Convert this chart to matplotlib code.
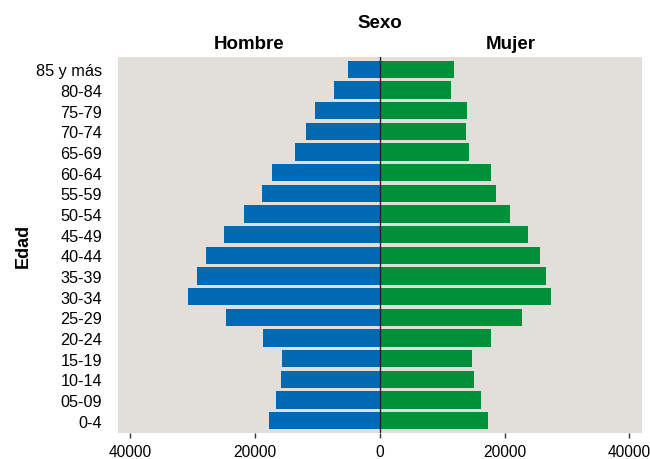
import matplotlib.pyplot as plt
import numpy as np

plt.rcParams['font.family'] = ['Liberation Sans', 'DejaVu Sans']

# Age groups, bottom to top
edades = ['0-4', '05-09', '10-14', '15-19', '20-24', '25-29', '30-34', '35-39',
          '40-44', '45-49', '50-54', '55-59', '60-64', '65-69', '70-74', '75-79',
          '80-84', '85 y más']
hombres = [17750, 16630, 15820, 15660, 18720, 24680, 30790, 29340, 27890,
           25000, 21780, 18880, 17270, 13570, 11800, 10350, 7290, 5040]
mujeres = [17270, 16140, 15020, 14700, 17750, 22740, 27410, 26600, 25640,
           23710, 20810, 18560, 17750, 14210, 13730, 13890, 11320, 11800]
xticks = [-40000, -20000, 0, 20000, 40000]
xticklabels = ['40000', '20000', '0', '20000', '40000']

fig = plt.figure(figsize=(6.5, 4.6), dpi=100)
ax = fig.add_axes([0.1815, 0.0565, 0.806, 0.8175])
ax.set_facecolor('#E2DED9')

y = np.arange(len(edades))
ax.barh(y, -np.array(hombres), height=0.83, color='#0069B3')
ax.barh(y, mujeres, height=0.83, color='#00903A')
ax.axvline(0, color='#222222', lw=1.0)

ax.set_xlim(-42000, 42000)
ax.set_ylim(-0.6, len(edades) - 0.4)
ax.set_xticks(xticks)
ax.set_xticklabels(xticklabels)
ax.set_yticks(y)
ax.set_yticklabels(edades)
ax.tick_params(axis='x', labelsize=11.2, colors='#333333', labelcolor='black',
               length=3.6, width=1.0, pad=4)
ax.tick_params(axis='y', labelsize=11.7, labelcolor='black', length=0, pad=11.5)
for s in ax.spines.values():
    s.set_visible(False)

ax.set_ylabel('Edad', fontsize=13, fontweight='bold', labelpad=3)
fig.text(0.584, 0.948, 'Sexo', ha='center', va='center', fontsize=13.5, fontweight='bold')
fig.text(0.383, 0.904, 'Hombre', ha='center', va='center', fontsize=13.5, fontweight='bold')
fig.text(0.786, 0.904, 'Mujer', ha='center', va='center', fontsize=13.5, fontweight='bold')

fig.savefig('out.png', dpi=100)
